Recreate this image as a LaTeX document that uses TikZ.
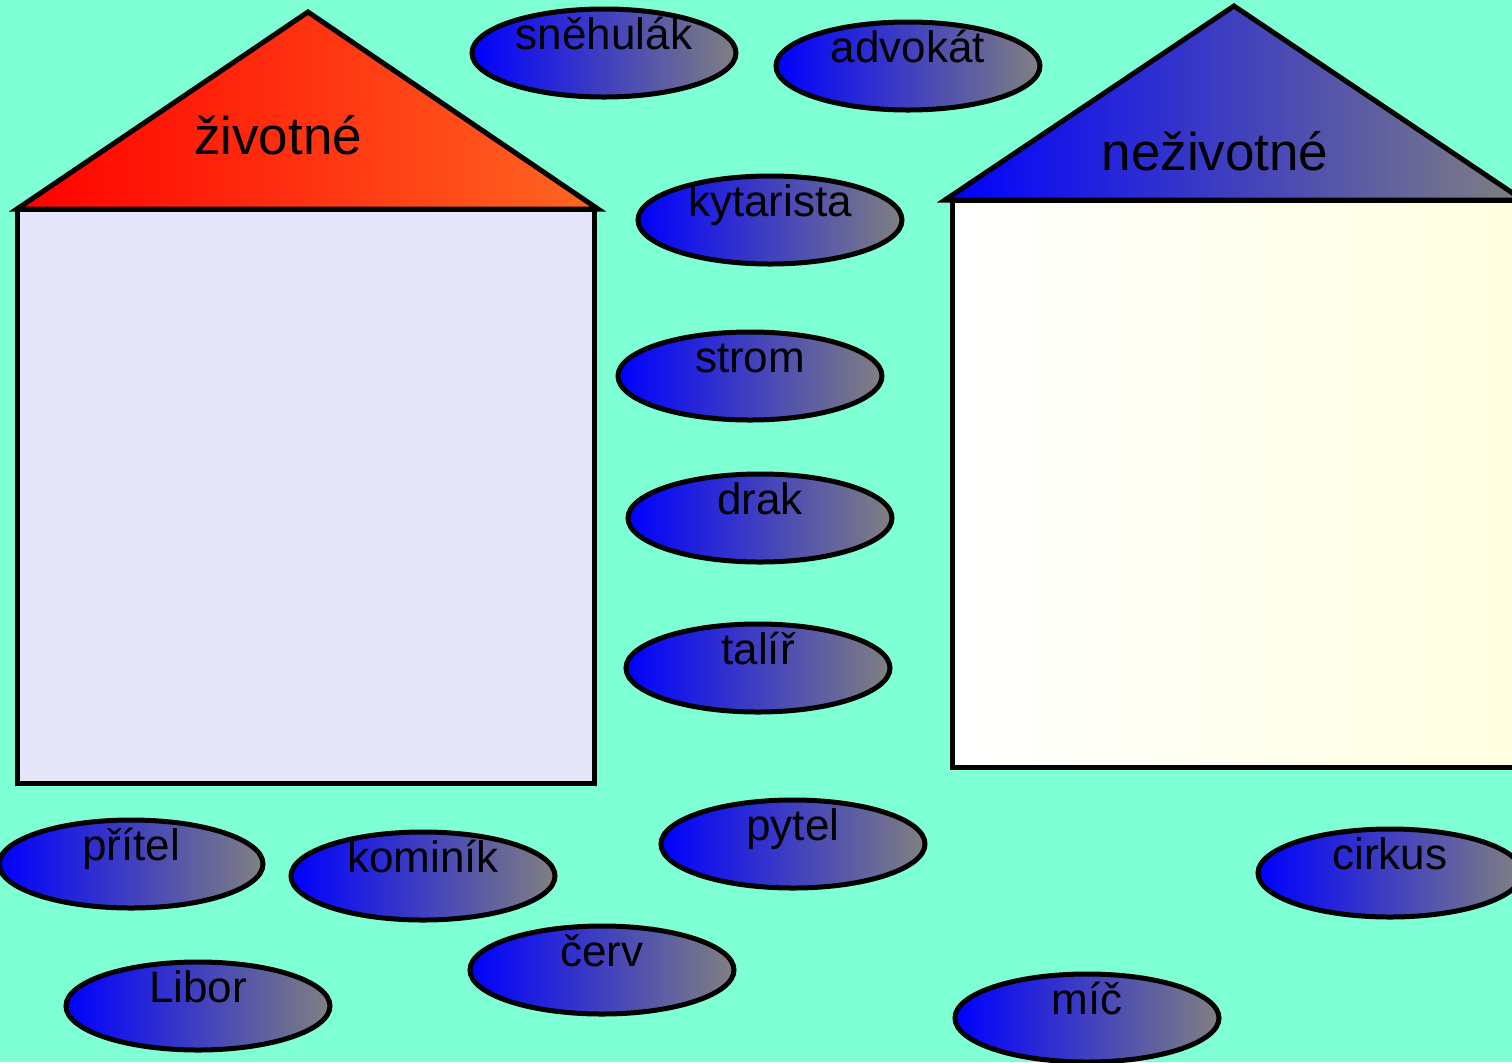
\documentclass[tikz,border=0pt]{standalone}
\usepackage{fontspec}
\setmainfont{Liberation Sans}
\usetikzlibrary{shapes.geometric}
\definecolor{bgaqua}{HTML}{7FFFD4}
\definecolor{lav}{HTML}{E6E6FA}
\definecolor{roofred}{HTML}{FF0000}
\definecolor{rooforange}{HTML}{FF6622}
\definecolor{ivorylight}{HTML}{FFFFE0}
\definecolor{wordgray}{HTML}{808080}
\begin{document}
\begin{tikzpicture}[x=0.5pt,y=-0.5pt,
  word/.style={ellipse, draw=black, line width=2.5pt, left color=blue, right color=wordgray,
    minimum width=132pt, minimum height=44pt, inner sep=0pt},
  wordtext/.style={anchor=base, font=\fontsize{22}{26}\selectfont, inner sep=0pt},
  housetext/.style={anchor=base, font=\fontsize{26.5}{30}\selectfont, inner sep=0pt},
  outline/.style={draw=black, line width=2.5pt, line join=miter}]
\useasboundingbox (0,0) rectangle (1512,1062);
\clip (0,0) rectangle (1512,1062);
\fill[bgaqua] (0,0) rectangle (1512,1062);
% left house
\path[outline, fill=lav] (17,209) rectangle (594,783);
\path[outline, left color=roofred, right color=rooforange] (17,209) -- (308,12) -- (598,209) -- cycle;
\node[housetext] (zivotne) at (278,154) {životné};
% right house
\path[outline, left color=white, right color=ivorylight] (952,200) rectangle (1530,767);
\path[outline, left color=blue, right color=wordgray] (945,200) -- (1234,6) -- (1523,200) -- cycle;
\node[housetext] (nezivotne) at (1215,170) {neživotné};
% words
\foreach \n/\cx/\cy/\t in {snehulak/604/53/sněhulák, advokat/908/66/advokát,
  kytarista/770/220/kytarista, strom/750/376/strom, drak/760/518/drak,
  talir/758/668/talíř, pritel/131/864/přítel, kominik/423/876/kominík,
  pytel/793/844/pytel, cerv/602/970/červ, libor/198/1006/Libor,
  cirkus/1390/873/cirkus, mic/1087/1018/míč}{
  \node[word] (\n) at (\cx,\cy) {};
  \node[wordtext] (\n-t) at ([yshift=2pt]\n.center) {\t};
}
\end{tikzpicture}
\end{document}
